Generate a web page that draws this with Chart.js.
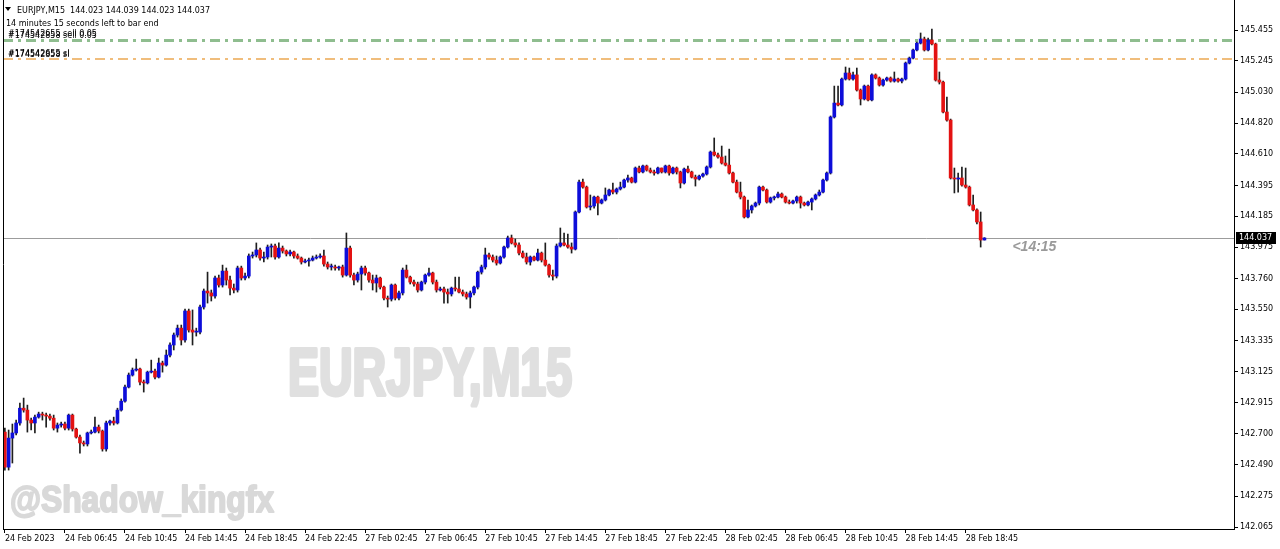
<!DOCTYPE html>
<html>
<head>
<meta charset="utf-8">
<title>EURJPY,M15</title>
<script src="https://cdn.jsdelivr.net/npm/chart.js@4.4.1/dist/chart.umd.min.js"></script>
<style>
  html, body { margin: 0; padding: 0; background: #fff; }
  canvas { display: block; }
</style>
</head>
<body>
<canvas id="chart" width="1280" height="549"></canvas>
<script>
// EURJPY M15 candles, oldest first
const opens = [
  142.713, 142.474, 142.672, 142.707, 142.775, 142.876, 142.863, 142.795, 142.775, 142.815, 142.836, 142.829, 142.822, 142.808, 142.740, 142.761,
  142.768, 142.740, 142.829, 142.734, 142.679, 142.639, 142.632, 142.707, 142.713, 142.747, 142.720, 142.598, 142.775, 142.788, 142.775, 142.863,
  142.924, 143.020, 143.102, 143.136, 143.143, 143.054, 143.048, 143.122, 143.129, 143.088, 143.184, 143.170, 143.238, 143.307, 143.375, 143.422,
  143.341, 143.539, 143.409, 143.395, 143.395, 143.566, 143.675, 143.662, 143.641, 143.764, 143.716, 143.811, 143.750, 143.695, 143.682, 143.832,
  143.764, 143.777, 143.914, 143.921, 143.955, 143.900, 143.907, 143.975, 143.982, 143.907, 143.968, 143.948, 143.928, 143.941, 143.914, 143.900,
  143.873, 143.880, 143.886, 143.900, 143.907, 143.914, 143.859, 143.839, 143.839, 143.832, 143.839, 143.784, 143.968, 143.784, 143.750, 143.791,
  143.832, 143.798, 143.750, 143.730, 143.764, 143.702, 143.627, 143.620, 143.716, 143.627, 143.662, 143.818, 143.770, 143.736, 143.723, 143.682,
  143.736, 143.784, 143.798, 143.736, 143.682, 143.689, 143.668, 143.655, 143.695, 143.689, 143.668, 143.655, 143.634, 143.662, 143.702, 143.804,
  143.839, 143.921, 143.907, 143.886, 143.866, 143.907, 143.975, 144.037, 144.003, 143.989, 143.934, 143.907, 143.873, 143.907, 143.886, 143.934,
  143.886, 143.852, 143.784, 143.777, 143.982, 144.003, 143.989, 143.975, 143.961, 144.214, 144.418, 144.384, 144.248, 144.255, 144.316, 144.275,
  144.296, 144.330, 144.364, 144.350, 144.371, 144.384, 144.432, 144.446, 144.418, 144.514, 144.487, 144.528, 144.500, 144.487, 144.480, 144.514,
  144.487, 144.528, 144.480, 144.514, 144.487, 144.412, 144.507, 144.487, 144.452, 144.439, 144.459, 144.473, 144.521, 144.623, 144.603, 144.589,
  144.548, 144.534, 144.480, 144.418, 144.350, 144.316, 144.180, 144.228, 144.255, 144.275, 144.384, 144.364, 144.282, 144.310, 144.316, 144.337,
  144.316, 144.282, 144.275, 144.289, 144.316, 144.275, 144.262, 144.282, 144.303, 144.330, 144.350, 144.432, 144.480, 144.862, 144.957, 144.944,
  145.121, 145.162, 145.121, 145.149, 145.046, 144.985, 145.073, 144.978, 145.149, 145.128, 145.080, 145.114, 145.128, 145.107, 145.121, 145.107,
  145.121, 145.230, 145.264, 145.319, 145.366, 145.394, 145.319, 145.387, 145.360, 145.114, 145.100, 144.896, 144.841, 144.446, 144.439, 144.446,
  144.398, 144.384, 144.262, 144.228, 144.146, 144.023
];
const highs = [
  142.740, 142.727, 142.768, 142.795, 142.911, 142.945, 142.897, 142.808, 142.829, 142.849, 142.849, 142.843, 142.836, 142.829, 142.775, 142.781,
  142.781, 142.836, 142.836, 142.740, 142.693, 142.652, 142.713, 142.727, 142.815, 142.761, 142.727, 142.788, 142.795, 142.815, 142.876, 142.939,
  143.034, 143.116, 143.150, 143.211, 143.150, 143.068, 143.129, 143.204, 143.143, 143.218, 143.197, 143.273, 143.321, 143.389, 143.443, 143.443,
  143.552, 143.552, 143.546, 143.422, 143.580, 143.689, 143.804, 143.682, 143.777, 143.784, 143.852, 143.832, 143.777, 143.723, 143.845, 143.845,
  143.798, 143.928, 143.941, 144.003, 143.968, 143.941, 143.989, 143.996, 143.996, 144.003, 143.982, 143.955, 143.955, 143.948, 143.928, 143.907,
  143.893, 143.900, 143.914, 143.921, 143.928, 143.955, 143.873, 143.859, 143.852, 143.845, 143.852, 144.071, 143.982, 143.798, 143.804, 143.845,
  143.845, 143.804, 143.784, 143.784, 143.770, 143.709, 143.641, 143.723, 143.723, 143.675, 143.832, 143.852, 143.777, 143.750, 143.736, 143.743,
  143.791, 143.832, 143.804, 143.750, 143.702, 143.702, 143.689, 143.702, 143.770, 143.770, 143.682, 143.668, 143.675, 143.709, 143.811, 143.852,
  143.968, 143.934, 143.921, 143.914, 143.914, 143.982, 144.050, 144.057, 144.030, 144.003, 143.948, 143.934, 143.914, 143.914, 143.961, 143.941,
  144.003, 143.859, 143.818, 143.996, 144.105, 144.071, 144.064, 144.003, 144.221, 144.432, 144.439, 144.391, 144.330, 144.323, 144.323, 144.303,
  144.378, 144.371, 144.412, 144.378, 144.418, 144.439, 144.466, 144.452, 144.521, 144.528, 144.534, 144.534, 144.514, 144.500, 144.521, 144.514,
  144.534, 144.534, 144.521, 144.521, 144.493, 144.514, 144.528, 144.493, 144.466, 144.466, 144.480, 144.528, 144.630, 144.719, 144.616, 144.664,
  144.596, 144.643, 144.487, 144.432, 144.418, 144.323, 144.296, 144.262, 144.282, 144.391, 144.391, 144.371, 144.316, 144.323, 144.350, 144.344,
  144.323, 144.296, 144.296, 144.323, 144.323, 144.282, 144.289, 144.310, 144.337, 144.364, 144.439, 144.487, 144.869, 145.073, 145.073, 145.128,
  145.203, 145.196, 145.169, 145.196, 145.053, 145.080, 145.080, 145.156, 145.156, 145.135, 145.121, 145.135, 145.135, 145.169, 145.128, 145.128,
  145.237, 145.271, 145.326, 145.373, 145.435, 145.407, 145.401, 145.462, 145.366, 145.169, 145.107, 144.998, 144.848, 144.514, 144.480, 144.521,
  144.514, 144.391, 144.330, 144.235, 144.214, 144.039
];
const lows = [
  142.454, 142.454, 142.502, 142.693, 142.761, 142.849, 142.713, 142.727, 142.707, 142.808, 142.795, 142.747, 142.795, 142.727, 142.713, 142.747,
  142.727, 142.727, 142.720, 142.672, 142.570, 142.618, 142.618, 142.700, 142.707, 142.707, 142.583, 142.583, 142.761, 142.761, 142.768, 142.856,
  142.917, 143.014, 143.095, 143.129, 143.034, 142.986, 143.041, 143.116, 143.075, 143.082, 143.122, 143.163, 143.225, 143.273, 143.361, 143.307,
  143.327, 143.395, 143.307, 143.368, 143.382, 143.552, 143.593, 143.607, 143.627, 143.702, 143.702, 143.716, 143.648, 143.662, 143.668, 143.750,
  143.750, 143.764, 143.900, 143.907, 143.886, 143.873, 143.893, 143.907, 143.893, 143.900, 143.934, 143.914, 143.914, 143.900, 143.893, 143.859,
  143.866, 143.845, 143.880, 143.893, 143.900, 143.845, 143.825, 143.818, 143.818, 143.818, 143.770, 143.777, 143.770, 143.716, 143.736, 143.682,
  143.784, 143.736, 143.682, 143.668, 143.689, 143.614, 143.566, 143.607, 143.614, 143.614, 143.648, 143.764, 143.723, 143.709, 143.668, 143.675,
  143.723, 143.777, 143.723, 143.668, 143.675, 143.593, 143.593, 143.641, 143.675, 143.662, 143.641, 143.620, 143.559, 143.648, 143.689, 143.791,
  143.825, 143.893, 143.873, 143.852, 143.859, 143.900, 143.968, 143.996, 143.975, 143.921, 143.900, 143.859, 143.852, 143.880, 143.880, 143.873,
  143.845, 143.770, 143.750, 143.764, 143.975, 143.982, 143.968, 143.934, 143.955, 144.207, 144.377, 144.241, 144.228, 144.241, 144.194, 144.269,
  144.289, 144.323, 144.337, 144.337, 144.364, 144.378, 144.418, 144.412, 144.412, 144.480, 144.480, 144.493, 144.480, 144.466, 144.473, 144.480,
  144.480, 144.466, 144.473, 144.473, 144.378, 144.405, 144.480, 144.446, 144.391, 144.432, 144.452, 144.466, 144.514, 144.596, 144.582, 144.541,
  144.528, 144.473, 144.412, 144.344, 144.303, 144.173, 144.173, 144.207, 144.248, 144.262, 144.357, 144.275, 144.275, 144.296, 144.310, 144.310,
  144.275, 144.269, 144.269, 144.275, 144.241, 144.255, 144.255, 144.228, 144.296, 144.323, 144.344, 144.425, 144.473, 144.855, 144.937, 144.937,
  145.114, 145.114, 145.114, 145.039, 144.944, 144.978, 144.971, 144.971, 145.121, 145.073, 145.073, 145.107, 145.100, 145.100, 145.100, 145.094,
  145.114, 145.224, 145.258, 145.312, 145.360, 145.312, 145.312, 145.353, 145.107, 145.087, 144.889, 144.834, 144.439, 144.344, 144.350, 144.391,
  144.377, 144.255, 144.221, 144.132, 143.975, 144.023
];
const closes = [
  142.474, 142.672, 142.707, 142.775, 142.876, 142.863, 142.795, 142.775, 142.815, 142.836, 142.829, 142.822, 142.808, 142.740, 142.761, 142.768,
  142.740, 142.829, 142.734, 142.679, 142.639, 142.632, 142.707, 142.713, 142.747, 142.720, 142.598, 142.775, 142.788, 142.775, 142.863, 142.924,
  143.020, 143.102, 143.136, 143.143, 143.054, 143.048, 143.122, 143.129, 143.088, 143.184, 143.170, 143.238, 143.307, 143.375, 143.422, 143.341,
  143.539, 143.409, 143.395, 143.395, 143.566, 143.675, 143.662, 143.641, 143.764, 143.716, 143.811, 143.750, 143.695, 143.682, 143.832, 143.764,
  143.777, 143.914, 143.921, 143.955, 143.900, 143.907, 143.975, 143.982, 143.907, 143.968, 143.948, 143.928, 143.941, 143.914, 143.900, 143.873,
  143.880, 143.886, 143.900, 143.907, 143.914, 143.859, 143.839, 143.839, 143.832, 143.839, 143.784, 143.968, 143.784, 143.750, 143.791, 143.832,
  143.798, 143.750, 143.730, 143.764, 143.702, 143.627, 143.620, 143.716, 143.627, 143.662, 143.818, 143.770, 143.736, 143.723, 143.682, 143.736,
  143.784, 143.798, 143.736, 143.682, 143.689, 143.668, 143.655, 143.695, 143.689, 143.668, 143.655, 143.634, 143.662, 143.702, 143.804, 143.839,
  143.921, 143.907, 143.886, 143.866, 143.907, 143.975, 144.037, 144.003, 143.989, 143.934, 143.907, 143.873, 143.907, 143.886, 143.934, 143.886,
  143.852, 143.784, 143.777, 143.982, 144.003, 143.989, 143.975, 143.961, 144.214, 144.418, 144.384, 144.248, 144.255, 144.316, 144.275, 144.296,
  144.330, 144.364, 144.350, 144.371, 144.384, 144.432, 144.446, 144.418, 144.514, 144.487, 144.528, 144.500, 144.487, 144.480, 144.514, 144.487,
  144.528, 144.480, 144.514, 144.487, 144.412, 144.507, 144.487, 144.452, 144.439, 144.459, 144.473, 144.521, 144.623, 144.603, 144.589, 144.548,
  144.534, 144.480, 144.418, 144.350, 144.316, 144.180, 144.228, 144.255, 144.275, 144.384, 144.364, 144.282, 144.310, 144.316, 144.337, 144.316,
  144.282, 144.275, 144.289, 144.316, 144.275, 144.262, 144.282, 144.303, 144.330, 144.350, 144.432, 144.480, 144.862, 144.957, 144.944, 145.121,
  145.162, 145.121, 145.149, 145.046, 144.985, 145.073, 144.978, 145.149, 145.128, 145.080, 145.114, 145.128, 145.107, 145.121, 145.107, 145.121,
  145.230, 145.264, 145.319, 145.366, 145.394, 145.319, 145.387, 145.360, 145.114, 145.100, 144.896, 144.841, 144.446, 144.439, 144.446, 144.398,
  144.384, 144.262, 144.228, 144.146, 144.023, 144.037
];

// bottom axis: one label every 16 bars (4 hours)
const timeLabels = [
  '24 Feb 2023', '24 Feb 06:45', '24 Feb 10:45', '24 Feb 14:45', '24 Feb 18:45', '24 Feb 22:45',
  '27 Feb 02:45', '27 Feb 06:45', '27 Feb 10:45', '27 Feb 14:45', '27 Feb 18:45', '27 Feb 22:45',
  '28 Feb 02:45', '28 Feb 06:45', '28 Feb 10:45', '28 Feb 14:45', '28 Feb 18:45'
];
const barsPerLabel = 16;

// right axis, as MT4 prints it
const priceTicks = [
  145.455, 145.245, 145.030, 144.820, 144.610, 144.395, 144.185, 143.975,
  143.760, 143.550, 143.335, 143.125, 142.915, 142.700, 142.490, 142.275, 142.065
];
const priceMin = 142.052;
const priceMax = 145.660;

// order lines and current bid
const sellPrice = 145.387;
const stopPrice = 145.258;
const bidPrice = 144.037;

const symbolTitle = 'EURJPY,M15';
const lastQuote = '144.023 144.039 144.023 144.037';
const barTimer = '14 minutes 15 seconds left to bar end';
const barsOnScreen = 328; // empty room is kept to the right of the last bar

const bullColor = '#0d0dd9';
const bearColor = '#e31212';
const wickColor = '#1e1e1e';
const smallFont = '8px "DejaVu Sans"';

const slots = Array.from({ length: barsOnScreen }, (_, i) => i);
const bodies = opens.map((o, i) => [o, closes[i]]);
const wicks = lows.map((l, i) => [l, highs[i]]);
const bodyColors = opens.map((o, i) => closes[i] >= o ? bullColor : bearColor);

// watermark text, squeezed to the width it has in the screenshot and thickened a bit
function squishText(ctx, text, x, y, width, thick) {
    const w = ctx.measureText(text).width;
    ctx.save();
    ctx.translate(x, y);
    ctx.scale(width / w, 1);
    ctx.lineJoin = 'round';
    ctx.lineWidth = thick;
    ctx.strokeStyle = ctx.fillStyle;
    ctx.strokeText(text, 0, 0);
    ctx.fillText(text, 0, 0);
    ctx.restore();
}

function hLine(ctx, area, py, color, lw, dash) {
    const yy = lw % 2 ? Math.round(py) + 0.5 : Math.round(py);
    ctx.save();
    ctx.beginPath();
    ctx.setLineDash(dash);
    ctx.strokeStyle = color;
    ctx.lineWidth = lw;
    ctx.moveTo(area.left, yy);
    ctx.lineTo(area.right, yy);
    ctx.stroke();
    ctx.restore();
}

const mtPlugin = {
    id: 'mt4look',
    beforeDatasetsDraw(chart) {
        const { ctx, chartArea: a, scales: { y } } = chart;
        ctx.save();
        ctx.textAlign = 'left';
        ctx.textBaseline = 'alphabetic';

        // background watermarks
        ctx.fillStyle = '#e0e0e0';
        ctx.font = 'bold 66px "Liberation Sans"';
        squishText(ctx, symbolTitle, 288, 395, 284, 4);
        ctx.fillStyle = '#d9d9d9';
        ctx.font = 'bold 36px "Liberation Sans"';
        squishText(ctx, '@Shadow_kingfx', 10, 512, 264, 2);

        // order lines + bid line
        hLine(ctx, a, y.getPixelForValue(bidPrice), '#9c9c9c', 1, []);
        hLine(ctx, a, y.getPixelForValue(stopPrice), '#f0bd7c', 2, [10, 5, 3, 5]);
        hLine(ctx, a, y.getPixelForValue(sellPrice), '#8fbd8f', 3, [10, 5, 3, 5]);
        ctx.restore();
    },
    afterDraw(chart) {
        const { ctx, chartArea: a, scales: { x, y } } = chart;
        ctx.save();

        // left frame line
        ctx.strokeStyle = '#000';
        ctx.lineWidth = 1;
        ctx.beginPath();
        ctx.moveTo(a.left + 0.5, a.top);
        ctx.lineTo(a.left + 0.5, a.bottom);
        ctx.stroke();

        // header
        ctx.fillStyle = '#000';
        ctx.beginPath();
        ctx.moveTo(5, 7);
        ctx.lineTo(11, 7);
        ctx.lineTo(8, 11);
        ctx.closePath();
        ctx.fill();
        ctx.font = smallFont;
        ctx.textAlign = 'left';
        ctx.textBaseline = 'alphabetic';
        ctx.fillText(symbolTitle + '  ' + lastQuote, 17, 13);
        ctx.fillText(barTimer, 6, 26);

        // order labels (two tickets drawn on top of each other)
        ctx.fillText('#174542655 sell 0.05', 8, 36);
        ctx.fillText('#174542858 sell 0.05', 8, 38);
        ctx.fillText('#174542655 sl', 8, 56);
        ctx.fillText('#174542858 sl', 8, 57);

        // bid label on the price axis
        const by = Math.round(y.getPixelForValue(bidPrice));
        ctx.fillStyle = '#000';
        ctx.fillRect(a.right + 2, by - 6, 40, 12);
        ctx.fillStyle = '#fff';
        ctx.textBaseline = 'middle';
        ctx.fillText(bidPrice.toFixed(3), a.right + 5, by);

        // time left
        ctx.fillStyle = '#9a9a9a';
        ctx.font = 'italic bold 14px "Liberation Sans"';
        ctx.textBaseline = 'alphabetic';
        ctx.fillText('<14:15', x.getPixelForValue(closes.length - 1) + 28, by + 13);
        ctx.restore();
    }
};

const ctx = document.getElementById('chart').getContext('2d');
new Chart(ctx, {
    type: 'bar',
    data: {
        labels: slots,
        datasets: [
            {
                label: 'body',
                data: bodies,
                backgroundColor: bodyColors,
                borderWidth: 0,
                barThickness: 3,
                minBarLength: 1,
                grouped: false
            },
            {
                label: 'wick',
                data: wicks,
                backgroundColor: wickColor,
                borderWidth: 0,
                barThickness: 1,
                grouped: false
            }
        ]
    },
    options: {
        responsive: false,
        animation: false,
        events: [],
        layout: { padding: { left: 3, top: 0, right: 0, bottom: 0 } },
        plugins: { legend: { display: false }, tooltip: { enabled: false } },
        scales: {
            x: {
                type: 'category',
                offset: true,
                afterBuildTicks: s => { s.ticks = timeLabels.map((_, k) => ({ value: k * barsPerLabel })); },
                afterFit: s => { s.height = 20; s.paddingLeft = 0; s.paddingRight = 0; },
                grid: { drawOnChartArea: false, offset: false, tickLength: 4, color: '#000' },
                border: { display: true, color: '#000', width: 1 },
                ticks: {
                    autoSkip: false,
                    maxRotation: 0,
                    minRotation: 0,
                    align: 'start',
                    padding: 1,
                    color: '#000',
                    font: { family: 'DejaVu Sans', size: 8 },
                    callback: v => timeLabels[v / barsPerLabel]
                }
            },
            y: {
                position: 'right',
                min: priceMin,
                max: priceMax,
                afterBuildTicks: s => { s.ticks = priceTicks.map(v => ({ value: v })); },
                afterFit: s => { s.width = 46; s.paddingTop = 0; s.paddingBottom = 0; },
                grid: { drawOnChartArea: false, tickLength: 4, color: '#000' },
                border: { display: true, color: '#000', width: 1 },
                ticks: {
                    padding: 2,
                    color: '#000',
                    font: { family: 'DejaVu Sans', size: 8 },
                    callback: v => v.toFixed(3)
                }
            }
        }
    },
    plugins: [mtPlugin]
});
</script>
</body>
</html>
